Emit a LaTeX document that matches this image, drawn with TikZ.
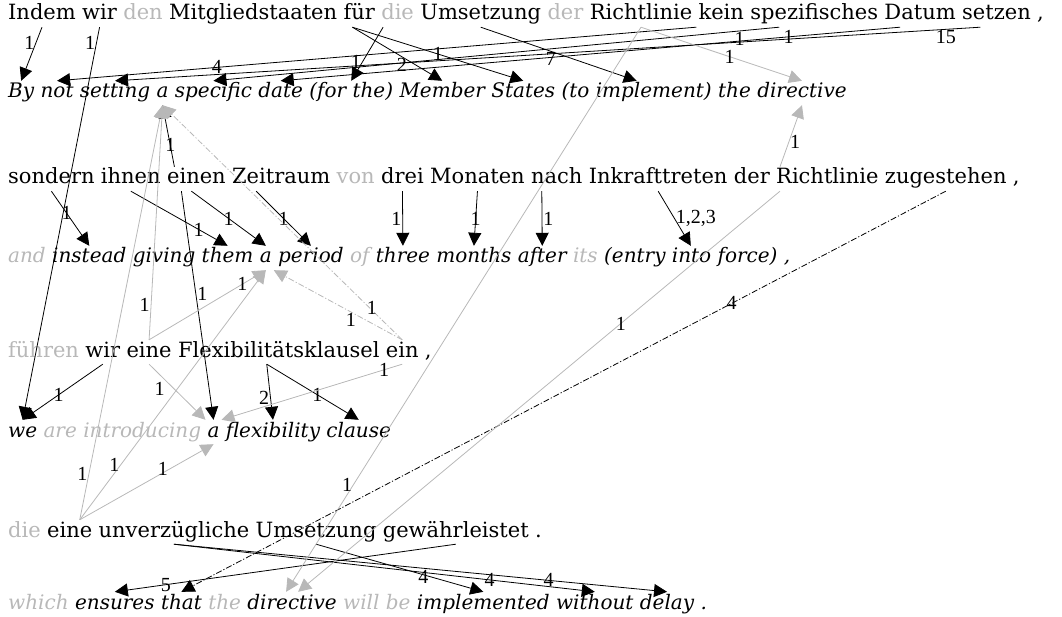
\documentclass[tikz,border=0pt]{standalone}
\usepackage{fontspec}
\setmainfont{DejaVu Serif}
\newfontfamily\numfont{Liberation Serif}
\usepackage{tikz}
\usetikzlibrary{positioning,arrows.meta}
\definecolor{lg}{gray}{0.72}

% one sentence as a chain of word nodes #1-1, #1-2, ...
\newcommand\sentence[4]{%
  \foreach \w/\c [count=\i, remember=\i as \j (initially 0)] in {#4}{%
    \ifnum\i=1
      \node[#2,\c] (#1-\i) at (8,#3) {\w};
    \else
      \node[#2,\c,base right=6pt of #1-\j] (#1-\i) {\w};
    \fi
  }%
}

\begin{document}
\begin{tikzpicture}[x=1pt,y=-1pt,
  word/.style={inner xsep=0pt,inner ysep=2pt,text height=15pt,text depth=5pt,anchor=base west,font=\fontsize{21}{24}\selectfont},
  en/.style={word,font=\fontsize{20}{24}\selectfont\itshape},
  on/.style={},
  off/.style={text=lg},
  lab/.style={font=\numfont\fontsize{20}{22}\selectfont,inner sep=1pt},
  tip/.style={-{Triangle[length=13pt,width=13pt]}},
  sure/.style={tip,draw=black,line width=0.8pt},
  maybe/.style={tip,draw=lg,line width=0.8pt},
  dashdot/.style={dash pattern=on 6pt off 2pt on 1.2pt off 2pt}]
\useasboundingbox (0,0) rectangle (1062,617);

\sentence{de1}{word}{20}{Indem/on, wir/on, den/off, Mitgliedstaaten/on, für/on, die/off, Umsetzung/on, der/off, Richtlinie/on, kein/on, spezifisches/on, Datum/on, setzen/on, {,}/on}
\sentence{en1}{en}{98}{By/on, not/on, setting/on, a/on, specific/on, date/on, {(for the)}/on, Member/on, States/on, {(to implement)}/on, the/on, directive/on}
\sentence{de2}{word}{184}{sondern/on, ihnen/on, einen/on, Zeitraum/on, von/off, drei/on, Monaten/on, nach/on, Inkrafttreten/on, der/on, Richtlinie/on, zugestehen/on, {,}/on}
\sentence{en2}{en}{263}{and/off, instead/on, giving/on, them/on, a/on, period/on, of/off, three/on, months/on, after/on, its/off, {(entry into force)}/on, {,}/on}
\sentence{de3}{word}{357}{führen/off, wir/on, eine/on, Flexibilitätsklausel/on, ein/on, {,}/on}
\sentence{en3}{en}{437}{we/on, are/off, introducing/off, a/on, flexibility/on, clause/on}
\sentence{de4}{word}{537}{die/off, eine/on, unverzügliche/on, Umsetzung/on, gewährleistet/on, ./on}
\sentence{en4}{en}{609}{which/off, ensures/on, that/on, the/off, directive/on, will/off, be/off, implemented/on, without/on, delay/on, ./on}

% sure links
\draw[sure] (de1-1.south) -- node[lab,pos=.3,left]{1} (en1-1.north);
\draw[sure] (de1-2.south) -- node[lab,pos=.04,left]{1} (en3-1.north);
\draw[sure] ([xshift=15pt]de1-4.south east) -- node[lab,pos=.55,below]{2} (en1-8.north);
\draw[sure] ([xshift=15pt]de1-4.south east) -- node[lab,pos=.5]{1} (en1-9.north);
\draw[sure] ([xshift=8pt]de1-5.south east) -- node[lab,pos=.65,left]{1} (en1-7.north);
\draw[sure] (de1-7.south) -- node[lab,pos=.45,below]{7} (en1-10.north);
\draw[sure] ([xshift=-25pt]de1-10.south) -- node[lab,pos=.75]{4} (en1-2.north);
\draw[sure] ([xshift=-35pt]de1-11.south) -- node[lab,pos=.07,below]{1} (en1-5.north);
\draw[sure] ([xshift=-20pt]de1-12.south) -- node[lab,pos=.18]{1} (en1-6.north);
\draw[sure] ([xshift=-16pt]de1-13.south) -- node[lab,pos=.04,below]{15} (en1-3.north);

\draw[sure] (de2-1.south) -- node[lab,pos=.4]{1} (en2-2.north);
\draw[sure] (de2-2.south) -- node[lab,pos=.7]{1} (en2-4.north);
\draw[sure] ([xshift=-22pt]de2-3.north) -- node[lab,pos=.35]{1} (en1-4.south);
\draw[sure] ([xshift=-5pt]de2-3.south) -- node[lab,pos=.5]{1} (en2-5.north);
\draw[sure] ([xshift=-15pt]de2-3.south) -- node[lab,pos=.45,right]{1} (en3-4.north);
\draw[sure] ([xshift=-25pt]de2-4.south) -- node[lab,pos=.5]{1} (en2-6.north);
\draw[sure] (de2-6.south) -- node[lab,pos=.5,left]{1} (en2-8.north);
\draw[sure] (de2-7.south) -- node[lab,pos=.5]{1} (en2-9.north);
\draw[sure] ([xshift=-15pt]de2-8.south) -- node[lab,pos=.5,right]{1} (en2-10.north);
\draw[sure] (de2-9.south) -- node[lab,pos=.5,right]{1,2,3} (en2-12.north);
\draw[sure,dashdot] (de2-12.south) -- node[lab,pos=.28]{4} (en4-3.north);

\draw[sure] (de3-2.south) -- node[lab,pos=.55]{1} (en3-1.north);
\draw[sure] ([xshift=-12pt]de3-4.south) -- node[lab,pos=.6,left]{2} (en3-5.north);
\draw[sure] ([xshift=-12pt]de3-4.south) -- node[lab,pos=.55]{1} (en3-6.north);

\draw[sure] (de4-3.south) -- node[lab,pos=.75]{4} (en4-9.north);
\draw[sure] (de4-3.south) -- node[lab,pos=.76]{4} (en4-10.north);
\draw[sure] (de4-4.south) -- node[lab,pos=.68,left]{4} (en4-8.north);
\draw[sure] (de4-5.south) -- node[lab,pos=.85]{5} (en4-2.north);

% maybe links
\draw[maybe] (de1-9.south) -- node[lab,pos=.55]{1} (en1-12.north);
\draw[maybe] (de1-9.south) -- node[lab,pos=.81,left]{1} ([xshift=-6pt]en4-5.north);
\draw[maybe] ([xshift=4pt]de2-11.north west) -- node[lab,pos=.4,right]{1} (en1-12.south);
\draw[maybe] ([xshift=4pt]de2-11.south west) -- node[lab,pos=.33]{1} ([xshift=6pt]en4-5.north);

\draw[maybe] (de3-3.north) -- node[lab,pos=.15,left]{1} (en1-4.south);
\draw[maybe] (de3-3.north) -- node[lab,pos=.8]{1} (en2-5.south);
\draw[maybe] (de3-3.south) -- node[lab,pos=.3,below left]{1} ([xshift=-8pt]en3-4.north);
\draw[maybe,dashdot] (de3-5.north) -- node[lab,pos=.1,above left]{1} (en1-4.south);
\draw[maybe,dashdot] (de3-5.north) -- node[lab,pos=.4,below]{1} ([xshift=8pt]en2-5.south);
\draw[maybe] (de3-5.south) -- node[lab,pos=.1]{1} ([xshift=8pt]en3-4.north);

\draw[maybe] ([xshift=10pt]de4-2.north) -- node[lab,pos=.11,left]{1} (en1-4.south);
\draw[maybe] ([xshift=10pt]de4-2.north) -- node[lab,pos=.22,left]{1} (en2-5.south);
\draw[maybe] ([xshift=10pt]de4-2.north) -- node[lab,pos=.67,left]{1} (en3-4.south);
\end{tikzpicture}
\end{document}
